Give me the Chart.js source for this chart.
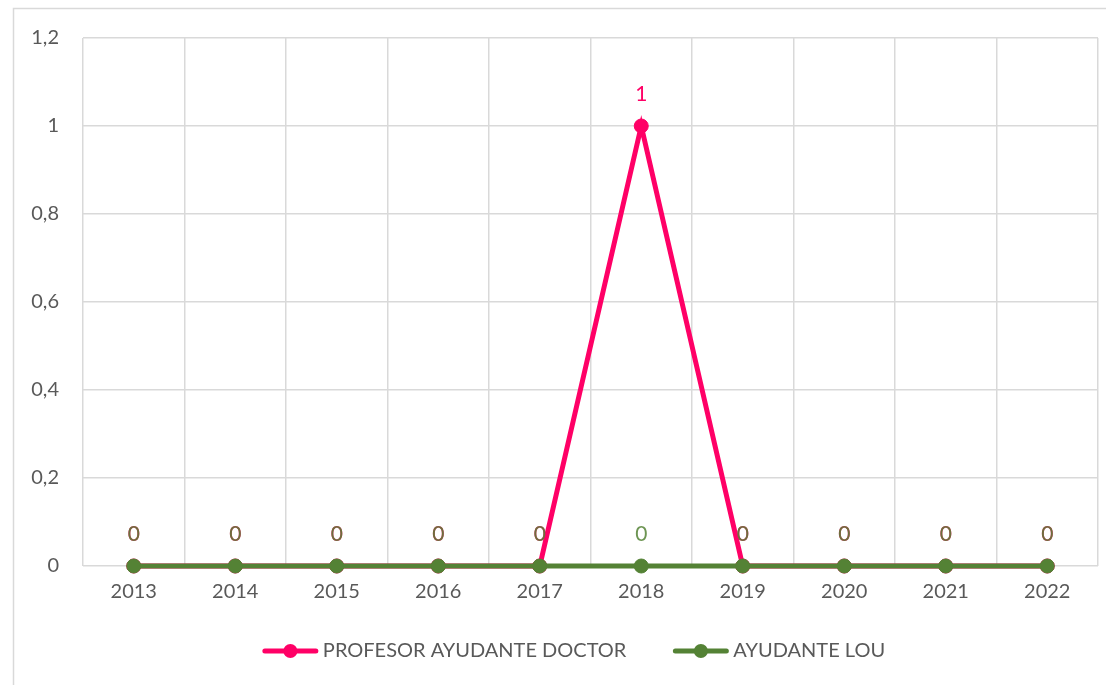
<!DOCTYPE html>
<html>
<head>
<meta charset="utf-8">
<script src="https://cdn.jsdelivr.net/npm/chart.js@4"></script>
<style>
html,body{margin:0;padding:0;background:#fff;}
#wrap{width:1106px;height:685px;position:relative;}
</style>
</head>
<body>
<div id="wrap"><canvas id="c" width="1106" height="685"></canvas></div>
<script>
const years = ['2013','2014','2015','2016','2017','2018','2019','2020','2021','2022'];
const profesorAyudanteDoctor = [0,0,0,0,0,1,0,0,0,0];
const ayudanteLou = [0,0,0,0,0,0,0,0,0,0];
const seriesNames = ['PROFESOR AYUDANTE DOCTOR','AYUDANTE LOU'];
const seriesColors = ['#FF0066','#548235'];
const yTickMin = 0, yTickMax = 1.2, yTickStep = 0.2;

const FONT = 'Lato';
const TXT = '#595959';
const GRID = '#d9d9d9';

const borderPlugin = {
  id:'outerBorder',
  beforeDraw(chart){
    const ctx = chart.ctx;
    ctx.save();
    ctx.fillStyle='#fff';
    ctx.fillRect(0,0,chart.width,chart.height);
    ctx.strokeStyle=GRID; ctx.lineWidth=1.5;
    ctx.strokeRect(13.5,8.5,1110,700);
    ctx.restore();
  }
};

const labelPlugin = {
  id:'valueLabels',
  afterDatasetsDraw(chart){
    const ctx = chart.ctx;
    ctx.save();
    ctx.font = '21px ' + FONT;
    ctx.textAlign='center'; ctx.textBaseline='middle';
    chart.data.datasets.forEach((ds, di) => {
      const meta = chart.getDatasetMeta(di);
      meta.data.forEach((pt, i) => {
        ctx.globalAlpha = di === 1 ? 0.85 : 1;
        ctx.fillStyle = ds.borderColor;
        ctx.fillText(String(ds.data[i]), pt.x, pt.y - 32);
      });
    });
    ctx.restore();
  }
};

const legendPlugin = {
  id:'customLegend',
  afterDraw(chart){
    const ctx = chart.ctx;
    ctx.save();
    ctx.font = '20px ' + FONT;
    ctx.textBaseline='middle';
    const y = 651;
    const lineW = 55, gap = 5, itemGap = 47;
    const widths = seriesNames.map(n => lineW + gap + ctx.measureText(n).width);
    const total = widths.reduce((a,b)=>a+b,0) + itemGap*(widths.length-1);
    let x = 574 - total/2;
    seriesNames.forEach((n, i) => {
      ctx.strokeStyle = seriesColors[i]; ctx.lineWidth = 5; ctx.lineCap='round';
      ctx.beginPath(); ctx.moveTo(x+2, y); ctx.lineTo(x+lineW-2, y); ctx.stroke();
      ctx.fillStyle = seriesColors[i];
      ctx.beginPath(); ctx.arc(x+lineW/2, y, 7, 0, Math.PI*2); ctx.fill();
      ctx.fillStyle = TXT;
      ctx.fillText(n, x+lineW+gap, y);
      x += widths[i] + itemGap;
    });
    ctx.restore();
  }
};

new Chart(document.getElementById('c'), {
  type:'line',
  data:{
    labels: years,
    datasets:[
      {label:seriesNames[0], data:profesorAyudanteDoctor, borderColor:seriesColors[0], backgroundColor:seriesColors[0],
       borderWidth:5, pointRadius:7, pointHoverRadius:7, pointBorderWidth:1, tension:0, order:1, clip:false},
      {label:seriesNames[1], data:ayudanteLou, borderColor:seriesColors[1], backgroundColor:seriesColors[1],
       borderWidth:5, pointRadius:7, pointHoverRadius:7, pointBorderWidth:1, tension:0, order:0, clip:false}
    ]
  },
  options:{
    responsive:false,
    animation:false,
    devicePixelRatio:1,
    layout:{padding:{left:0, right:7, top:38, bottom:69}},
    plugins:{legend:{display:false}, tooltip:{enabled:false}},
    scales:{
      x:{
        offset:true,
        grid:{offset:true, color:GRID, lineWidth:1.5, drawTicks:false},
        border:{display:false},
        ticks:{color:TXT, font:{family:FONT, size:20}, padding:14, maxRotation:0},
        afterFit(s){ s.height = 50; }
      },
      y:{
        min:yTickMin, max:yTickMax,
        grid:{color:GRID, lineWidth:1.5, drawTicks:false},
        border:{display:false},
        ticks:{stepSize:yTickStep, color:TXT, font:{family:FONT, size:20}, padding:24,
          callback:(v)=>String(Math.round(v*10)/10).replace('.',',')},
        afterFit(s){ s.width = 83; }
      }
    }
  },
  plugins:[borderPlugin, labelPlugin, legendPlugin]
});
</script>
</body>
</html>
